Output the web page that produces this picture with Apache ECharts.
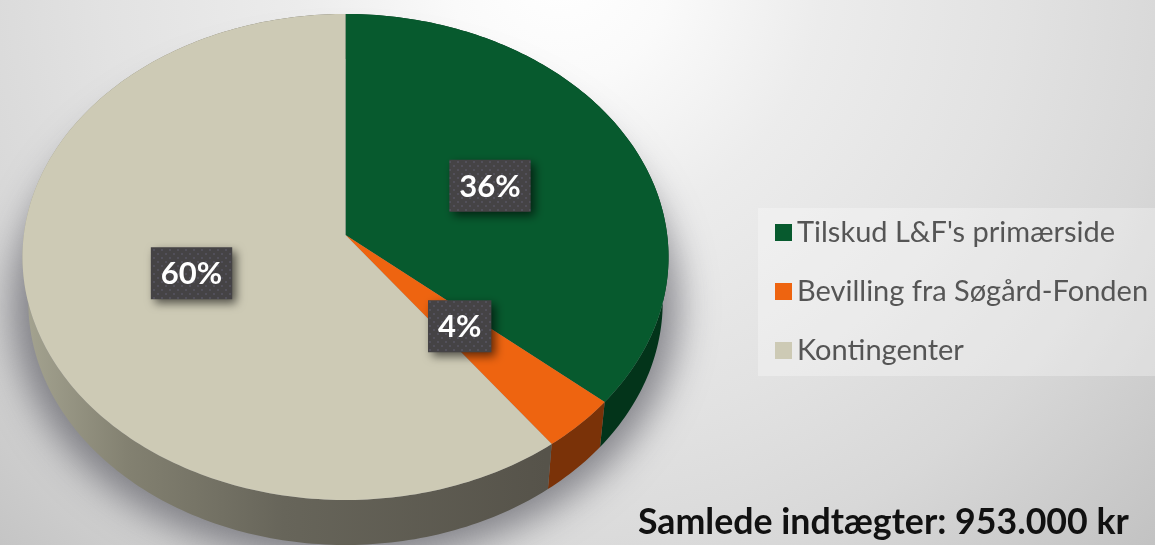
<!DOCTYPE html>
<html>
<head>
<meta charset="utf-8">
<style>
html, body { margin: 0; padding: 0; background: #fff; }
#chart { width: 1155px; height: 545px; }
</style>
<script src="https://cdn.jsdelivr.net/npm/echarts@6/dist/echarts.min.js"></script>
</head>
<body>
<div id="chart"></div>
<script>
var categories = ['Tilskud L&F\'s primærside', 'Bevilling fra Søgård-Fonden', 'Kontingenter'];
var values = [346000, 34000, 573000]; // kr, aflæst
var totalText = 'Samlede indtægter: 953.000 kr';

var topColors = ['#075a2e', '#ee6410', '#cdcab5'];
var sideColors = ['#03341a', '#7a3208', null];

// skive i perspektiv
var apexX = 345.5, apexY = 235, radX = 321.7, radY = 241, persp = 0.0905, depth = 45, shrink = 0.982;
var labelFont = 'bold 31px Lato';
var total = values.reduce(function (a, b) { return a + b; }, 0);

function project(t, f) {
	var u = Math.sin(t) * f;
	var v = Math.cos(t) * f;
	var d = 1 + persp * v;
	return [apexX + radX * u / d, apexY - radY * v / d];
}
function lower(p) {
	return [apexX + (p[0] - apexX) * shrink, p[1] + depth];
}
function arcPoints(a0, a1) {
	var pts = [];
	var n = Math.max(2, Math.ceil((a1 - a0) / (Math.PI / 180)));
	for (var i = 0; i <= n; i++) {
		pts.push(project(a0 + (a1 - a0) * i / n, 1));
	}
	return pts;
}

// prikmønster på etiketterne
var measure = document.createElement('canvas').getContext('2d');
function dotPattern() {
	var c = document.createElement('canvas');
	c.width = 8;
	c.height = 8;
	var g = c.getContext('2d');
	g.fillStyle = '#454345';
	g.fillRect(0, 0, 8, 8);
	g.fillStyle = '#52505a';
	g.fillRect(1, 1, 2, 2);
	g.fillRect(5, 5, 2, 2);
	return c;
}
var pattern = dotPattern();

function sliceRenderer(idx) {
	return function () {
		var before = 0;
		for (var i = 0; i < idx; i++) before += values[i];
		var a0 = before / total * Math.PI * 2;
		var a1 = (before + values[idx]) / total * Math.PI * 2;
		var rim = arcPoints(a0, a1);
		var bottom = rim.map(lower).reverse();
		var mid = project((a0 + a1) / 2, 0.5);
		var text = Math.round(values[idx] / total * 100) + '%';
		measure.font = labelFont;
		var boxW = measure.measureText(text).width + 20;
		var boxH = 52;
		var sideFill = sideColors[idx] || new echarts.graphic.LinearGradient(22, 0, 546, 0, [
			{ offset: 0, color: '#a5a491' },
			{ offset: 0.2, color: '#838171' },
			{ offset: 0.5, color: '#67655a' },
			{ offset: 1, color: '#56534a' }
		], true);
		return {
			type: 'group',
			children: [
				{
					type: 'polygon',
					z2: 1,
					shape: { points: rim.concat(bottom) },
					style: { fill: sideFill }
				},
				{
					type: 'polygon',
					z2: 2,
					shape: { points: [[apexX, apexY]].concat(rim) },
					style: { fill: topColors[idx] }
				},
				{
					type: 'rect',
					z2: 3,
					shape: { x: mid[0] + 1 - boxW / 2, y: mid[1] - boxH / 2, width: boxW, height: boxH },
					style: {
						fill: { image: pattern, repeat: 'repeat' },
						shadowBlur: 10,
						shadowColor: 'rgba(0,0,0,0.6)',
						shadowOffsetX: 4,
						shadowOffsetY: 4
					}
				},
				{
					type: 'text',
					z2: 4,
					x: mid[0] + 1,
					y: mid[1] + 1,
					style: {
						text: text,
						fill: '#fff',
						font: labelFont,
						align: 'center',
						verticalAlign: 'middle'
					}
				}
			]
		};
	};
}

// skygge under kagen: selve formen ligger uden for billedet, kun skyggen ses
function shadowRenderer() {
	var s = 1.05;
	return {
		type: 'group',
		children: [{
			type: 'polygon',
			shape: {
				points: arcPoints(0, Math.PI * 2).map(lower).map(function (p) {
					return [apexX + (p[0] - apexX) * s - 2000, 300 + (p[1] - 300) * s + 4];
				})
			},
			style: {
				fill: '#888',
				shadowBlur: 36,
				shadowColor: 'rgba(70,70,80,0.6)',
				shadowOffsetX: 2000
			}
		}]
	};
}

var series = [{
	name: 'shadow',
	type: 'custom',
	coordinateSystem: 'none',
	silent: true,
	data: [[0]],
	renderItem: shadowRenderer
}];
categories.forEach(function (name, i) {
	series.push({
		name: name,
		type: 'custom',
		coordinateSystem: 'none',
		itemStyle: { color: topColors[i] },
		data: [[values[i]]],
		renderItem: sliceRenderer(i)
	});
});

var chart = echarts.init(document.getElementById('chart'), null, { renderer: 'canvas' });
chart.setOption({
	animation: false,
	backgroundColor: new echarts.graphic.RadialGradient(560, -30, 850, [
		{ offset: 0, color: '#ffffff' },
		{ offset: 0.13, color: '#fafafa' },
		{ offset: 0.31, color: '#ececec' },
		{ offset: 0.54, color: '#e2e2e2' },
		{ offset: 0.72, color: '#d8d8d8' },
		{ offset: 1, color: '#c0c0c0' }
	], true),
	title: {
		text: totalText,
		left: 638,
		top: 504,
		padding: 0,
		textStyle: { fontFamily: 'Lato', fontWeight: 'bold', fontSize: 35.7, color: '#111' }
	},
	legend: {
		data: categories,
		orient: 'vertical',
		left: 758,
		top: 208,
		padding: [10, 8, 11, 17],
		backgroundColor: 'rgba(255,255,255,0.3)',
		icon: 'rect',
		itemWidth: 17,
		itemHeight: 17,
		itemGap: 30,
		selectedMode: false,
		textStyle: { fontFamily: 'Lato', fontSize: 29, color: '#555', lineHeight: 28 }
	},
	series: series
});
</script>
</body>
</html>
